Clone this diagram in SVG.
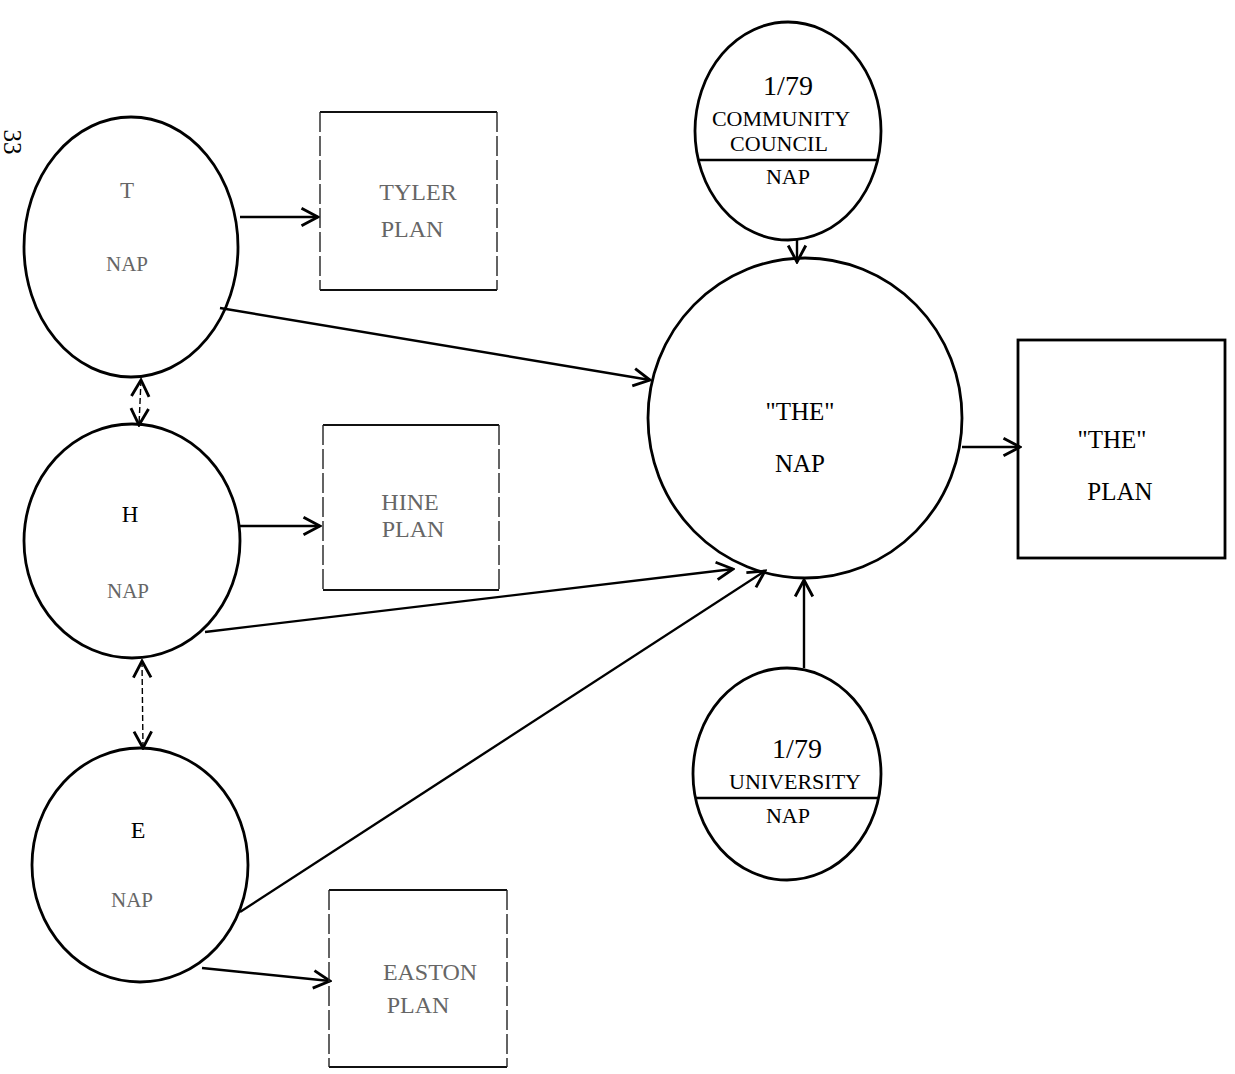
<svg xmlns="http://www.w3.org/2000/svg" width="1235" height="1074" viewBox="0 0 1235 1074">
<style>
.c{fill:none;stroke:#000;stroke-width:2.8}
.bs{fill:none;stroke:#111;stroke-width:2.2}
.bd{fill:none;stroke:#222;stroke-width:1.4;stroke-dasharray:20 4}
.t{font-family:"Liberation Serif",serif;fill:#000;text-anchor:middle}
.f{font-family:"Liberation Serif",serif;fill:#666;text-anchor:middle}
.ln{fill:none;stroke:#000;stroke-width:2.4;marker-end:url(#arr)}
.dl{fill:none;stroke:#000;stroke-width:1.4;stroke-dasharray:6 3;marker-start:url(#arr);marker-end:url(#arr)}
</style>
<defs>
<marker id="arr" viewBox="0 0 20 20" refX="18" refY="10" markerWidth="22" markerHeight="22" orient="auto-start-reverse" markerUnits="userSpaceOnUse">
<path d="M3,2 L18,10 L3,18" fill="none" stroke="#000" stroke-width="2.6"/>
</marker>
</defs>
<rect width="1235" height="1074" fill="#fff"/>
<text class="t" font-size="25" transform="translate(4,142) rotate(90)">33</text>

<g id="connectors">
<line class="ln" x1="240" y1="217" x2="318" y2="217"/>
<line class="ln" x1="240" y1="526" x2="320" y2="526"/>
<line class="ln" x1="202" y1="968" x2="330" y2="981"/>
<line class="ln" x1="220" y1="308" x2="650" y2="380"/>
<line class="ln" x1="205" y1="632" x2="733" y2="569"/>
<line class="ln" x1="240" y1="912" x2="765" y2="571"/>
<line class="ln" x1="797" y1="240" x2="797" y2="262"/>
<line class="ln" x1="804" y1="668" x2="804" y2="580"/>
<line class="ln" x1="962" y1="447" x2="1020" y2="447"/>
<line class="dl" x1="141" y1="380" x2="139" y2="425"/>
<line class="dl" x1="142" y1="661" x2="143" y2="748"/>
</g>

<g id="node-t">
<ellipse class="c" cx="131" cy="247" rx="107" ry="130"/>
<text class="f" x="127" y="198" font-size="23">T</text>
<text class="f" x="127" y="271" font-size="21">NAP</text>
</g>
<g id="node-h">
<ellipse class="c" cx="132" cy="541" rx="108" ry="117"/>
<text class="t" x="130" y="522" font-size="23">H</text>
<text class="f" x="128" y="598" font-size="21">NAP</text>
</g>
<g id="node-e">
<ellipse class="c" cx="140" cy="865" rx="108" ry="117"/>
<text class="t" x="138" y="838" font-size="24">E</text>
<text class="f" x="132" y="907" font-size="21">NAP</text>
</g>

<g id="box-tyler">
<path class="bs" d="M320,112 H497 M320,290 H497"/>
<path class="bd" d="M320,112 V290 M497,112 V290"/>
<text class="f" x="418" y="200" font-size="24">TYLER</text>
<text class="f" x="412" y="237" font-size="24">PLAN</text>
</g>
<g id="box-hine">
<path class="bs" d="M323,425 H499 M323,590 H499"/>
<path class="bd" d="M323,425 V590 M499,425 V590"/>
<text class="f" x="410" y="510" font-size="24">HINE</text>
<text class="f" x="413" y="537" font-size="24">PLAN</text>
</g>
<g id="box-easton">
<path class="bs" d="M329,890 H507 M329,1067 H507"/>
<path class="bd" d="M329,890 V1067 M507,890 V1067"/>
<text class="f" x="430" y="980" font-size="24">EASTON</text>
<text class="f" x="418" y="1013" font-size="24">PLAN</text>
</g>

<g id="node-community">
<ellipse class="c" cx="788" cy="131" rx="93" ry="109"/>
<line x1="698" y1="160" x2="878" y2="160" stroke="#000" stroke-width="2.4"/>
<text class="t" x="788" y="95" font-size="28">1/79</text>
<text class="t" x="781" y="126" font-size="22">COMMUNITY</text>
<text class="t" x="779" y="151" font-size="22">COUNCIL</text>
<text class="t" x="788" y="184" font-size="22">NAP</text>
</g>

<g id="node-the-nap">
<ellipse class="c" cx="805" cy="418" rx="157" ry="160"/>
<text class="t" x="800" y="420" font-size="25">"THE"</text>
<text class="t" x="800" y="472" font-size="25">NAP</text>
</g>

<g id="node-the-plan">
<rect class="c" x="1018" y="340" width="207" height="218"/>
<text class="t" x="1112" y="448" font-size="25">"THE"</text>
<text class="t" x="1120" y="500" font-size="25">PLAN</text>
</g>

<g id="node-university">
<ellipse class="c" cx="787" cy="774" rx="94" ry="106"/>
<line x1="695" y1="798" x2="879" y2="798" stroke="#000" stroke-width="2.4"/>
<text class="t" x="797" y="758" font-size="28">1/79</text>
<text class="t" x="795" y="789" font-size="22">UNIVERSITY</text>
<text class="t" x="788" y="823" font-size="22">NAP</text>
</g>
</svg>
